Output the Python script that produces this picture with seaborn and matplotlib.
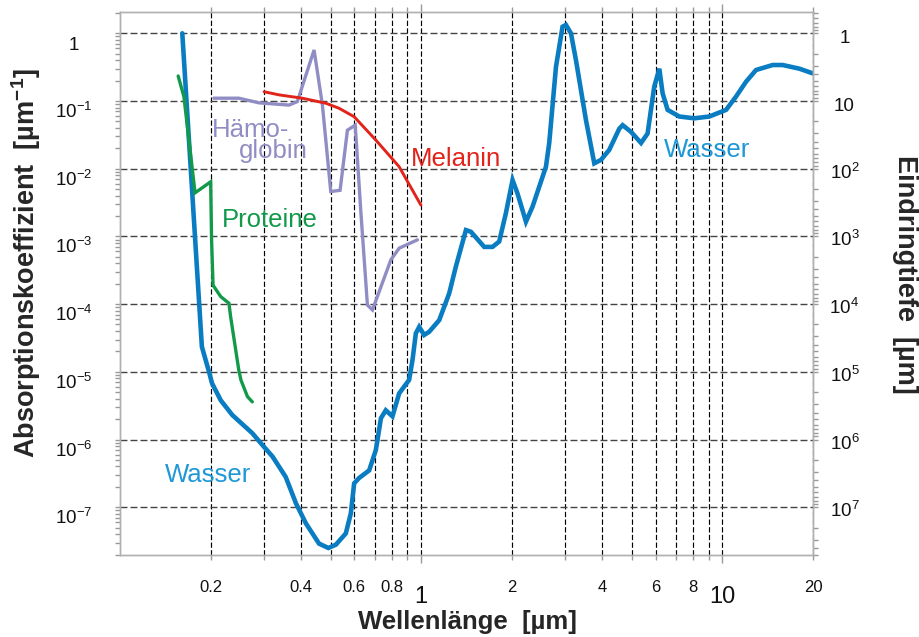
import numpy as np
import pandas as pd
import matplotlib
matplotlib.use("Agg")
import matplotlib.pyplot as plt
import seaborn as sns
from matplotlib.ticker import FixedLocator, NullFormatter, LogLocator
from matplotlib.transforms import ScaledTranslation

# ---------------- data ----------------
water_wl = [0.161, 0.176, 0.187, 0.198, 0.202, 0.216, 0.236, 0.275, 0.297, 0.321,
            0.355, 0.384, 0.414, 0.458, 0.492, 0.521, 0.562, 0.584, 0.599, 0.622,
            0.672, 0.707, 0.716, 0.735, 0.763, 0.803, 0.845, 0.912, 0.936, 0.960,
            0.985, 1.023, 1.063, 1.148, 1.239, 1.304, 1.408, 1.463, 1.619, 1.725,
            1.816, 1.911, 2.011, 2.089, 2.228, 2.343, 2.596, 2.662, 2.803, 2.947,
            3.025, 3.143, 3.266, 3.526, 3.757, 3.954, 4.213, 4.548, 4.665, 4.975,
            5.370, 5.646, 5.942, 6.176, 6.334, 6.581, 7.195, 8.072, 9.054, 10.29,
            11.10, 11.99, 12.94, 14.69, 15.86, 18.03, 19.9]
water_abs = [1.0, 1.75e-3, 2.35e-5, 9.6e-6, 6.8e-6, 3.8e-6, 2.3e-6, 1.24e-6, 8.3e-7, 5.6e-7,
             2.8e-7, 1.14e-7, 5.8e-8, 2.9e-8, 2.5e-8, 2.8e-8, 4.1e-8, 8.1e-8, 2.25e-7, 2.7e-7,
             3.5e-7, 7.0e-7, 9.8e-7, 2.06e-6, 2.7e-6, 2.2e-6, 4.8e-6, 7.6e-6, 1.5e-5, 3.7e-5,
             4.6e-5, 3.5e-5, 3.9e-5, 5.8e-5, 1.44e-4, 3.6e-4, 1.24e-3, 1.17e-3, 7.0e-4, 7.0e-4,
             8.4e-4, 2.2e-3, 6.8e-3, 4.3e-3, 1.65e-3, 2.75e-3, 1.07e-2, 2.4e-2, 0.32, 1.25,
             1.33, 1.0, 0.40, 0.052, 0.012, 0.0135, 0.019, 0.039, 0.044, 0.035,
             0.024, 0.033, 0.163, 0.30, 0.13, 0.074, 0.059, 0.0555, 0.059, 0.074,
             0.116, 0.193, 0.287, 0.34, 0.34, 0.30, 0.257]

hb_wl = [0.205, 0.248, 0.289, 0.364, 0.388, 0.441, 0.470, 0.501, 0.538, 0.569,
         0.604, 0.631, 0.663, 0.689, 0.793, 0.845, 0.972]
hb_abs = [0.110, 0.110, 0.094, 0.087, 0.098, 0.567, 0.087, 4.6e-3, 4.8e-3, 0.037,
          0.044, 2.2e-3, 9.7e-5, 8.2e-5, 4.5e-4, 6.7e-4, 8.9e-4]

mel_wl = [0.301, 0.338, 0.403, 0.483, 0.534, 0.599, 0.707, 0.845, 0.998]
mel_abs = [0.137, 0.123, 0.110, 0.0925, 0.078, 0.0586, 0.0265, 0.0107, 2.9e-3]

prot_wl = [0.156, 0.163, 0.1775, 0.200, 0.2014, 0.2037, 0.216, 0.230, 0.233, 0.248,
           0.252, 0.265, 0.275]
prot_abs = [0.234, 0.116, 4.4e-3, 6.4e-3, 8.9e-4, 1.9e-4, 1.29e-4, 1.03e-4, 6.5e-5, 1.06e-5,
            7.6e-6, 4.3e-6, 3.6e-6]

x_major = [1, 10]
x_major_labels = ["1", "10"]
x_minor = [0.2, 0.3, 0.4, 0.5, 0.6, 0.7, 0.8, 0.9, 2, 3, 4, 5, 6, 7, 8, 9, 20]
x_minor_labels = ["0.2", "", "0.4", "", "0.6", "", "0.8", "", "2", "", "4", "", "6", "", "8", "", "20"]

y_left_ticks = [1, 1e-1, 1e-2, 1e-3, 1e-4, 1e-5, 1e-6, 1e-7]
y_left_labels = ["1", r"$\mathregular{10^{-1}}$", r"$\mathregular{10^{-2}}$", r"$\mathregular{10^{-3}}$",
                 r"$\mathregular{10^{-4}}$", r"$\mathregular{10^{-5}}$", r"$\mathregular{10^{-6}}$",
                 r"$\mathregular{10^{-7}}$"]
y_right_ticks = [1, 10, 1e2, 1e3, 1e4, 1e5, 1e6, 1e7]
y_right_labels = ["1", "10", r"$\mathregular{10^{2}}$", r"$\mathregular{10^{3}}$", r"$\mathregular{10^{4}}$",
                  r"$\mathregular{10^{5}}$", r"$\mathregular{10^{6}}$", r"$\mathregular{10^{7}}$"]

# label annotations: (text, wavelength, absorption, colour)
annotations = [
    ("Hämo-", 0.202, 0.0297, "#8f8dc4"),
    ("globin", 0.2484, 0.01425, "#8f8dc4"),
    ("Proteine", 0.2187, 1.39e-3, "#12994a"),
    ("Melanin", 0.924, 0.01107, "#e2231a"),
    ("Wasser", 0.1408, 2.38e-7, "#1e98d6"),
    ("Wasser", 6.416, 0.01473, "#1e98d6"),
]

# ---------------- style ----------------
sns.set_style("white")
plt.rcParams['font.family'] = ['Liberation Sans', 'DejaVu Sans']
plt.rcParams['mathtext.fontset'] = 'custom'
plt.rcParams['mathtext.rm'] = 'Liberation Sans'
plt.rcParams['mathtext.it'] = 'Liberation Sans:italic'
plt.rcParams['mathtext.bf'] = 'Liberation Sans:bold'

fig = plt.figure(figsize=(9.2, 6.37), dpi=100)
ax = fig.add_axes([120 / 920, 1 - 555 / 637, 693 / 920, 543 / 637])

series = [
    (water_wl, water_abs, "#0a7dc2", 3.3),
    (hb_wl, hb_abs, "#8f8dc4", 2.4),
    (mel_wl, mel_abs, "#e2231a", 2.1),
    (prot_wl, prot_abs, "#12994a", 2.4),
]
for wl, ab, col, lw in series:
    df = pd.DataFrame({"wl": wl, "abs": ab})
    sns.lineplot(data=df, x="wl", y="abs", ax=ax, color=col, linewidth=lw,
                 sort=False, estimator=None, solid_joinstyle="miter")

ax.set_xscale("log")
ax.set_yscale("log")
ax.set_xlim(0.1, 20)
ax.set_ylim(1.97e-8, 2.063)

spine_col = "#b0b0b0"
for s in ax.spines.values():
    s.set_color(spine_col)
    s.set_linewidth(1.0)

# x ticks
ax.xaxis.set_major_locator(FixedLocator(x_major))
ax.xaxis.set_minor_locator(FixedLocator(x_minor))
ax.set_xticks(x_major, labels=x_major_labels, fontsize=17)
ax.set_xticks(x_minor, labels=x_minor_labels, minor=True, fontsize=12)
ax.tick_params(axis="x", which="major", direction="out", length=6, width=1, color="#999999",
               top=True, bottom=True, pad=16.5, labelcolor="#111111")
ax.tick_params(axis="x", which="minor", direction="out", length=3.6, width=1, color="#999999",
               top=True, bottom=True, pad=14.5, labelcolor="#111111")

# left y ticks
ax.yaxis.set_major_locator(FixedLocator(y_left_ticks))
ax.set_yticks(y_left_ticks, labels=y_left_labels, fontsize=13.5)
ax.yaxis.set_minor_locator(LogLocator(base=10, subs=np.arange(2, 10), numticks=30))
ax.yaxis.set_minor_formatter(NullFormatter())
ax.tick_params(axis="y", which="both", direction="out", length=3.6, width=1, color="#999999",
               left=True, right=False, pad=29.5, labelcolor="#111111")
for lbl in ax.get_yticklabels():
    lbl.set_horizontalalignment("center")
    lbl.set_verticalalignment("baseline")
    lbl.set_transform(lbl.get_transform() + ScaledTranslation(0, -0.17, fig.dpi_scale_trans))

# grid
ax.grid(True, axis="y", which="major", color="#444444", linestyle=(0, (5, 2.2)), linewidth=1.0)
ax.grid(True, axis="x", which="both", color="#000000", linestyle=(0, (4.5, 2.0)), linewidth=0.85)
ax.grid(False, axis="y", which="minor")
ax.set_axisbelow(True)

# right axis: penetration depth = 1 / absorption
ax2 = ax.twinx()
ax2.set_yscale("log")
y0, y1 = ax.get_ylim()
ax2.set_ylim(1 / y0, 1 / y1)
ax2.yaxis.set_major_locator(FixedLocator(y_right_ticks))
ax2.set_yticks(y_right_ticks, labels=y_right_labels, fontsize=13.5)
ax2.yaxis.set_minor_locator(LogLocator(base=10, subs=np.arange(2, 10), numticks=30))
ax2.yaxis.set_minor_formatter(NullFormatter())
ax2.tick_params(axis="y", which="both", direction="out", length=3.6, width=1, color="#999999",
                right=True, left=False, pad=19, labelcolor="#111111")
for lbl in ax2.get_yticklabels():
    lbl.set_horizontalalignment("center")
    lbl.set_verticalalignment("baseline")
    lbl.set_transform(lbl.get_transform() + ScaledTranslation(0, -0.10, fig.dpi_scale_trans))
for s in ax2.spines.values():
    s.set_color(spine_col)
    s.set_linewidth(1.0)
ax2.grid(False)

# axis labels
ax.set_xlabel("Wellenlänge  [µm]", fontsize=18.5, fontweight="bold", va="center")
ax.xaxis.set_label_coords(0.501, -0.1225)
ax.set_ylabel(r"Absorptionskoeffizient  [µm$^{\mathregular{-1}}$]", fontsize=19.5,
              fontweight="bold", va="center")
ax.yaxis.set_label_coords(-0.136, 0.537)
ax2.set_ylabel("Eindringtiefe  [µm]", rotation=-90, fontsize=19.5, fontweight="bold",
               va="center", ha="center")
ax2.yaxis.set_label_coords(1.133, 0.516)

# curve annotations
for txt, xw, ya, col in annotations:
    ax.text(xw, ya, txt, color=col, fontsize=18.5, ha="left", va="baseline")

fig.savefig("out.png", dpi=100)
